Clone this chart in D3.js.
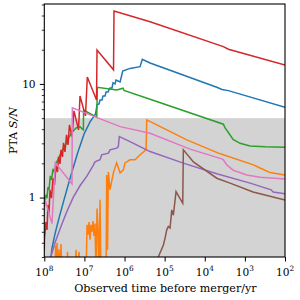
<!DOCTYPE html>
<html><head><meta charset="utf-8">
<script src="https://cdn.jsdelivr.net/npm/d3@7"></script>
<style>body{margin:0;background:#fff}svg{display:block}</style>
</head><body><svg id="c" width="300" height="300"></svg>
<script>
// ---- data ----
const timeTicks = [1e8, 1e7, 1e6, 1e5, 1e4, 1e3, 1e2];
const timeTickExp = ["8", "7", "6", "5", "4", "3", "2"];
const snrMajor = [1, 10];
const snrMajorLabels = ["1", "10"];
const snrMinor = [0.3,0.4,0.5,0.6,0.7,0.8,0.9,2,3,4,5,6,7,8,9,20,30,40,50];
const threshold = 5;
const xLabel = "Observed time before merger/yr";

const blueSeries = [[7.13e7,0.26],[6.43e7,0.36],[5.41e7,0.48],[4.30e7,0.66],[3.23e7,0.955],[2.16e7,1.58],[1.45e7,2.52],[1.02e7,3.63],[7.24e6,4.63],[5.28e6,5.45],[4.85e6,6.53],[4.33e6,6.67],[4.08e6,7.23],[3.64e6,7.23],[3.44e6,7.84],[3.06e6,7.84],[2.89e6,8.51],[2.58e6,8.51],[2.30e6,9.22],[2.05e6,9.22],[1.94e6,10.2],[1.73e6,10.0],[1.63e6,10.8],[1.29e6,10.4],[1.11e6,13.0],[7.29e5,13.7],[4.10e5,14.2],[3.60e5,16.5],[2.31e5,15.3],[5.02e3,9.35],[3.71e3,8.95],[2.58e3,8.73],[1e2,6.24]];
const orangeSeries = [[7.21e7,0.2],[5.41e7,0.2],[5.26e7,0.38],[4.97e7,0.2],[4.82e7,0.40],[4.55e7,0.2],[4.30e7,0.35],[4.06e7,0.2],[3.84e7,0.39],[3.62e7,0.2],[2.72e7,0.2],[2.64e7,0.333],[2.49e7,0.2],[1.71e7,0.2],[1.62e7,0.347],[1.53e7,0.2],[1.36e7,0.333],[1.29e7,0.2],[9.12e6,0.2],[8.61e6,0.575],[8.13e6,0.47],[7.67e6,0.61],[7.24e6,0.425],[6.84e6,0.575],[6.46e6,0.50],[6.11e6,0.62],[5.77e6,0.46],[5.45e6,0.59],[5.14e6,0.2],[4.85e6,0.80],[4.58e6,0.54],[4.33e6,0.2],[4.08e6,0.955],[3.85e6,0.2],[2.89e6,0.2],[2.78e6,1.58],[2.65e6,0.347],[2.53e6,1.68],[2.30e6,1.17],[1.90e6,1.65],[1.57e6,2.02],[1.29e6,1.65],[1.07e6,1.75],[9.72e5,2.02],[7.29e5,2.15],[5.47e5,2.15],[4.10e5,2.38],[2.91e5,2.63],[2.79e5,4.82],[1.57e5,4.36],[2.81e4,3.22],[4.58e3,2.46],[3.44e3,2.38],[6.14e2,1.94],[4.18e2,1.82],[2.36e2,1.66],[1e2,1.58]];
const greenSeries = [[1e8,0.83],[9.08e7,1.06],[8.57e7,0.99],[8.09e7,1.24],[7.64e7,1.17],[7.08e7,1.55],[6.61e7,1.43],[6.07e7,1.79],[5.57e7,1.65],[5.11e7,2.02],[4.55e7,2.15],[4.06e7,2.38],[3.42e7,2.68],[2.88e7,2.97],[2.56e7,3.28],[2.16e7,3.63],[1.89e7,3.86],[1.62e7,4.10],[1.29e7,4.19],[1.06e7,3.94],[1.05e7,5.90],[4.93e6,5.10],[4.76e6,9.35],[1.57e6,8.85],[1.09e6,9.17],[1.03e6,8.76],[2.31e5,7.33],[3.44e3,4.42],[3.12e3,4.10],[2.58e3,3.74],[1.97e3,3.25],[1.32e3,3.00],[7.41e2,2.85],[3.13e2,2.80],[1e2,2.77]];
const redSeries = [[1e8,0.35],[9.9e7,0.43],[9.08e7,0.61],[8.57e7,0.52],[8.09e7,0.86],[7.64e7,0.73],[7.21e7,1.17],[6.61e7,0.99],[6.07e7,1.48],[5.57e7,1.29],[5.11e7,1.90],[4.69e7,1.68],[4.43e7,2.28],[4.06e7,1.98],[3.84e7,2.63],[3.52e7,2.28],[3.32e7,3.03],[3.05e7,2.52],[2.79e7,3.56],[2.56e7,2.91],[2.36e7,4.36],[2.04e7,3.42],[1.82e7,5.79],[1.40e7,3.94],[1.29e7,7.84],[9.40e6,5.23],[8.47e6,11.5],[4.99e6,7.23],[4.85e6,19.9],[1.88e6,13.3],[1.83e6,43.9],[2.31e5,35.3],[3.44e3,21.3],[2.58e3,20.2],[1e2,14.7]];
const purpleSeries = [[7.3e7,0.27],[7.08e7,0.29],[5.41e7,0.40],[4.06e7,0.53],[2.76e7,0.75],[1.89e7,1.01],[1.29e7,1.27],[8.61e6,1.55],[6.11e6,1.90],[5.45e6,2.06],[4.08e6,2.15],[3.71e6,2.38],[2.53e6,2.46],[2.30e6,2.63],[1.57e6,2.72],[1.43e6,2.81],[1.35e6,3.44],[7.29e5,3.11],[2.31e5,2.54],[3.42e4,2.01],[5.02e3,1.62],[7.41e2,1.34],[2.22e2,1.17],[1.97e2,1.12],[1e2,1.08]];
const brownSeries = [[1.73e5,0.2],[1.44e5,0.30],[1.08e5,0.38],[9.77e4,0.44],[8.87e4,0.52],[8.09e4,0.556],[7.33e4,0.54],[6.65e4,0.78],[6.07e4,0.70],[5.20e4,1.13],[3.54e4,0.89],[3.42e4,2.63],[1.92e4,2.06],[1.08e4,1.79],[5.02e3,1.48],[2.34e3,1.34],[6.25e2,1.12],[1e2,0.95]];
const pinkSeries = [[1e8,1.01],[6.43e7,0.59],[5.32e7,2.02],[2.04e7,1.32],[2.00e7,6.15],[1.29e6,4.21],[2.31e5,3.68],[2.33e4,2.67],[3.77e3,2.19],[3.44e3,2.15],[2.82e3,1.94],[1.94e3,1.74],[8.98e2,1.58],[4.18e2,1.51],[1e2,1.46]];

const seriesList = [blueSeries, orangeSeries, greenSeries, redSeries, purpleSeries, brownSeries, pinkSeries];
const seriesColors = ["#1f77b4", "#ff7f0e", "#2ca02c", "#d62728", "#9467bd", "#8c564b", "#e377c2"];

// ---- chart ----
const FONT = "'DejaVu Serif', serif";
const TICK_FS = 10.6, LABEL_FS = 11.1;
const m = {l: 44.3, r: 285, t: 4, b: 257};
const x = d3.scaleLog().domain([1e8, 1e2]).range([m.l, m.r]);
const y = d3.scaleLog().domain([0.3, 50.5]).range([m.b, m.t]);
const svg = d3.select("#c");

svg.append("defs").append("clipPath").attr("id", "clip")
  .append("rect").attr("x", m.l).attr("y", m.t).attr("width", m.r - m.l).attr("height", m.b - m.t);

svg.append("rect").attr("x", m.l).attr("y", y(threshold))
  .attr("width", m.r - m.l).attr("height", m.b - y(threshold)).attr("fill", "#d3d3d3");

const line = d3.line().x(d => x(d[0])).y(d => y(d[1]));
const g = svg.append("g").attr("clip-path", "url(#clip)");
seriesList.forEach((s, i) => {
  g.append("path").attr("d", line(s)).attr("fill", "none")
    .attr("stroke", seriesColors[i]).attr("stroke-width", 1.5)
    .attr("stroke-linejoin", "miter");
});

// frame
svg.append("rect").attr("x", m.l).attr("y", m.t).attr("width", m.r - m.l).attr("height", m.b - m.t)
  .attr("fill", "none").attr("stroke", "#000").attr("stroke-width", 1.1);

// x axis
const xa = svg.append("g").attr("transform", `translate(0,${m.b})`)
  .call(d3.axisBottom(x).tickValues(timeTicks).tickFormat("").tickSizeInner(4.5).tickSizeOuter(0));
xa.select(".domain").remove();
xa.selectAll("line").attr("stroke", "#000").attr("stroke-width", 1);
timeTicks.forEach((t, i) => {
  const tx = svg.append("text").attr("x", x(t)).attr("y", 276)
    .attr("text-anchor", "middle").attr("font-family", FONT).attr("font-size", TICK_FS).attr("fill", "#000");
  tx.append("tspan").text("10");
  tx.append("tspan").attr("dy", -4.8).attr("font-size", 7.4).text(timeTickExp[i]);
});

// y axis major
const ya = svg.append("g").attr("transform", `translate(${m.l},0)`)
  .call(d3.axisLeft(y).tickValues(snrMajor).tickFormat((d, i) => snrMajorLabels[i]).tickSizeInner(4.5).tickSizeOuter(0).tickPadding(4.2));
ya.select(".domain").remove();
ya.selectAll("line").attr("stroke", "#000").attr("stroke-width", 1);
ya.selectAll("text").attr("font-family", FONT).attr("font-size", TICK_FS).attr("fill", "#000");
// y axis minor
const ym = svg.append("g").attr("transform", `translate(${m.l},0)`)
  .call(d3.axisLeft(y).tickValues(snrMinor).tickFormat("").tickSizeInner(2.5).tickSizeOuter(0));
ym.select(".domain").remove();
ym.selectAll("line").attr("stroke", "#000").attr("stroke-width", 0.8);

// labels
svg.append("text").attr("x", (m.l + m.r) / 2 + 0.7).attr("y", 292)
  .attr("text-anchor", "middle").attr("font-family", FONT).attr("font-size", LABEL_FS).attr("fill", "#000")
  .text(xLabel);
const yl = svg.append("text").attr("transform", `translate(16.5,${(m.t + m.b) / 2}) rotate(-90)`)
  .attr("text-anchor", "middle").attr("font-family", FONT).attr("font-size", LABEL_FS).attr("fill", "#000");
yl.append("tspan").text("PTA ");
yl.append("tspan").attr("font-style", "italic").text("S/N");
</script>
</body></html>
